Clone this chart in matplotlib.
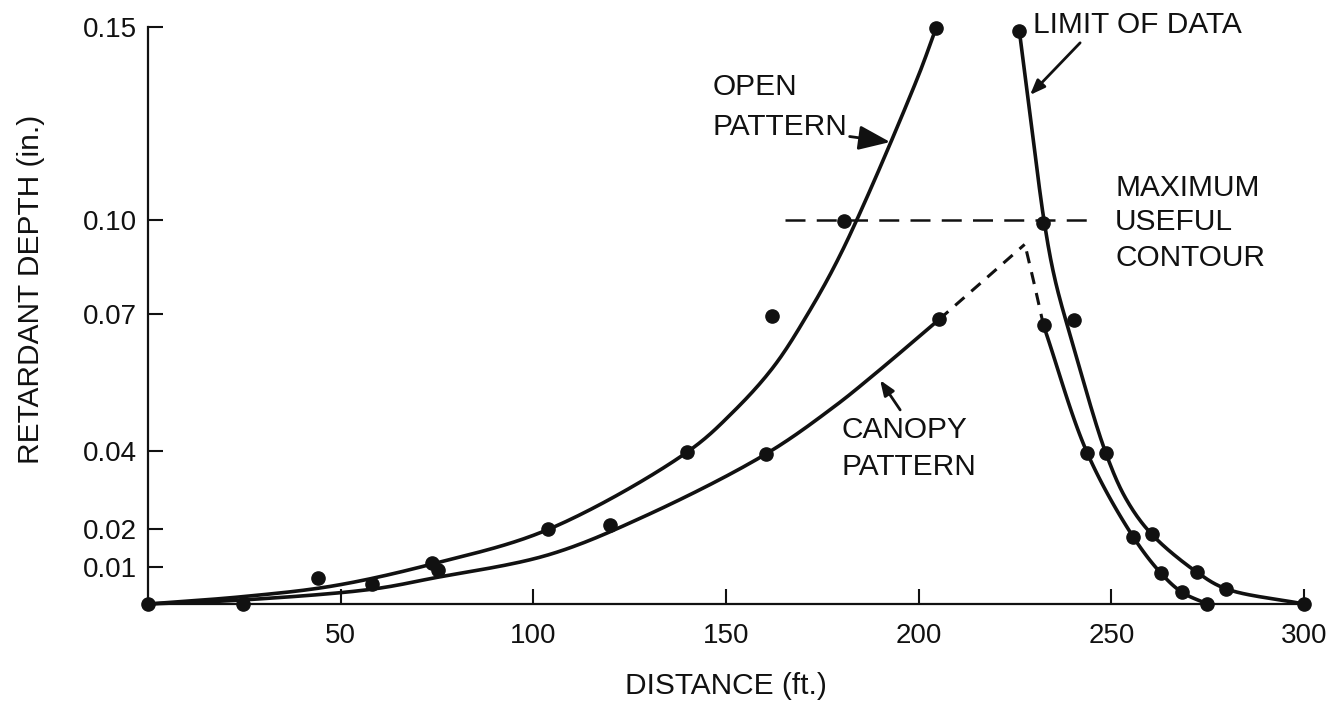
import numpy as np
import matplotlib
matplotlib.use("Agg")
import matplotlib.pyplot as plt
from matplotlib.scale import FuncScale

plt.rcParams['font.family'] = ['Liberation Sans', 'DejaVu Sans']

# Printed depth axis is not uniform: anchor depths and their heights along the axis
scale_depth = [-0.05, 0.0, 0.01, 0.02, 0.04, 0.07, 0.10, 0.15, 0.20]
scale_height = [-185, 0, 37, 75, 153, 290, 384, 577, 770]

x_ticks = [50, 100, 150, 200, 250, 300]
x_tick_labels = ["50", "100", "150", "200", "250", "300"]
y_ticks = [0.01, 0.02, 0.04, 0.07, 0.10, 0.15]
y_tick_labels = ["0.01", "0.02", "0.04", "0.07", "0.10", "0.15"]

# Fitted curves: distance (ft) and retardant depth (in.)
open_curve_dist = [0, 24.7, 48.1, 73.8, 103.9, 139.9, 151.9, 162.3, 171.0, 180.5,
                   199.5, 204.5]
open_curve_depth = [0, 0.002, 0.0049, 0.0108, 0.0199, 0.0397, 0.0486, 0.0584, 0.0697,
                    0.0910, 0.1363, 0.1497]

canopy_curve_dist = [0, 24.7, 58.1, 74.0, 103.9, 128.5, 160.3, 177.9, 189.1, 205.3]
canopy_curve_depth = [0, 0.0011, 0.004, 0.0070, 0.0132, 0.0231, 0.0392, 0.0496,
                      0.0572, 0.0688]

canopy_ext_dist = [205.3, 216.4, 227.5]
canopy_ext_depth = [0.0688, 0.0802, 0.0922]
canopy_drop_dist = [228.0, 230.1, 232.4]
canopy_drop_depth = [0.0900, 0.0790, 0.0675]

canopy_right_dist = [232.4, 243.8, 255.7, 262.9, 268.3, 274.9]
canopy_right_depth = [0.0675, 0.0394, 0.0179, 0.0083, 0.0032, 0.0]

open_right_dist = [226.1, 228.9, 232.6, 235.4, 240.2, 248.6, 254.0, 260.5, 272.2,
                   279.8, 300]
open_right_depth = [0.1492, 0.1275, 0.0993, 0.0809, 0.0628, 0.0394, 0.0274, 0.0186,
                    0.0086, 0.0041, 0.0]

# Observed points
open_pts_dist = [0, 44.2, 73.8, 103.9, 120.0, 139.9, 162.0, 180.7, 204.5]
open_pts_depth = [0, 0.0071, 0.011, 0.0199, 0.021, 0.0397, 0.0696, 0.0998, 0.1497]
canopy_pts_dist = [24.6, 58.1, 75.3, 160.3, 205.3]
canopy_pts_depth = [0, 0.0054, 0.0091, 0.0392, 0.0688]
canopy_right_pts_dist = [232.4, 240.3, 243.8, 255.7, 262.9, 268.3, 274.9]
canopy_right_pts_depth = [0.0675, 0.0686, 0.0394, 0.0179, 0.0083, 0.0032, 0.0]
open_right_pts_dist = [226.1, 232.2, 248.6, 260.5, 272.2, 279.8, 300]
open_right_pts_depth = [0.149, 0.0991, 0.0394, 0.0186, 0.0086, 0.0041, 0.0]

contour_depth = 0.10
contour_span = [165.3, 246.3]


def fwd(v):
    return np.interp(v, scale_depth, scale_height)


def inv(v):
    return np.interp(v, scale_height, scale_depth)


def smooth(xs, ys, n=24):
    """Centripetal Catmull-Rom through the points, computed in axis space."""
    P = np.column_stack([np.asarray(xs, float) * 3.853, fwd(np.asarray(ys, float))])
    P = np.vstack([2 * P[0] - P[1], P, 2 * P[-1] - P[-2]])
    out = []
    for i in range(1, len(P) - 2):
        p0, p1, p2, p3 = P[i - 1], P[i], P[i + 1], P[i + 2]
        t0 = 0.0
        t1 = t0 + max(np.linalg.norm(p1 - p0), 1e-6) ** 0.5
        t2 = t1 + max(np.linalg.norm(p2 - p1), 1e-6) ** 0.5
        t3 = t2 + max(np.linalg.norm(p3 - p2), 1e-6) ** 0.5
        t = np.linspace(t1, t2, n, endpoint=False)[:, None]
        A1 = (t1 - t) / (t1 - t0) * p0 + (t - t0) / (t1 - t0) * p1
        A2 = (t2 - t) / (t2 - t1) * p1 + (t - t1) / (t2 - t1) * p2
        A3 = (t3 - t) / (t3 - t2) * p2 + (t - t2) / (t3 - t2) * p3
        B1 = (t2 - t) / (t2 - t0) * A1 + (t - t0) / (t2 - t0) * A2
        B2 = (t3 - t) / (t3 - t1) * A2 + (t - t1) / (t3 - t1) * A3
        out.append((t2 - t) / (t2 - t1) * B1 + (t - t1) / (t2 - t1) * B2)
    out.append(P[-2][None])
    C = np.vstack(out)
    return C[:, 0] / 3.853, inv(C[:, 1])


fig = plt.figure(figsize=(13.44, 7.02), dpi=100)
ax = fig.add_axes([148 / 1344, 98 / 702, 1156 / 1344, 577 / 702])
ax.set_yscale(FuncScale(ax.yaxis, (fwd, inv)))
ax.set_xlim(0, 300)
ax.set_ylim(0, 0.15)

ink = "#111111"
lw = 2.6

for xs, ys in [(open_curve_dist, open_curve_depth),
               (canopy_curve_dist, canopy_curve_depth),
               (canopy_right_dist, canopy_right_depth),
               (open_right_dist, open_right_depth)]:
    sx, sy = smooth(xs, ys)
    ax.plot(sx, sy, color=ink, lw=lw, solid_capstyle="round", clip_on=False, zorder=3)

for xs, ys in [(canopy_ext_dist, canopy_ext_depth), (canopy_drop_dist, canopy_drop_depth)]:
    sx, sy = smooth(xs, ys)
    ax.plot(sx, sy, color=ink, lw=2.2, dashes=(4, 3), clip_on=False, zorder=3)

ax.plot(contour_span, [contour_depth, contour_depth], color=ink, lw=1.8,
        dashes=(8, 4.5), zorder=2)

for xs, ys in [(open_pts_dist, open_pts_depth), (canopy_pts_dist, canopy_pts_depth),
               (canopy_right_pts_dist, canopy_right_pts_depth),
               (open_right_pts_dist, open_right_pts_depth)]:
    ax.plot(xs, ys, "o", color=ink, ms=9.5, mec=ink, clip_on=False, zorder=4)

for side in ("top", "right"):
    ax.spines[side].set_visible(False)
for side in ("left", "bottom"):
    ax.spines[side].set_linewidth(1.6)
    ax.spines[side].set_color(ink)

ax.set_xticks(x_ticks)
ax.set_xticklabels(x_tick_labels)
ax.set_yticks(y_ticks)
ax.set_yticklabels(y_tick_labels)
ax.minorticks_off()
ax.tick_params(axis="both", direction="in", length=11, width=1.5, color=ink,
               labelsize=20, labelcolor=ink)
ax.tick_params(axis="x", pad=14)
ax.tick_params(axis="y", pad=8)

ax.set_xlabel("DISTANCE (ft.)", fontsize=21.5, color=ink)
ax.xaxis.set_label_coords(0.5, -0.118)
ax.set_ylabel("RETARDANT DEPTH (in.)", fontsize=21.5, color=ink)
ax.yaxis.set_label_coords(-0.089, 0.545)

tkw = dict(fontsize=21.5, color=ink, va="center", ha="left")
arrow = dict(arrowstyle="-|>,head_length=0.9,head_width=0.35", color=ink, lw=2.0,
             shrinkA=0, shrinkB=0)

ax.text(146.4, 0.1345, "OPEN", **tkw)
ax.annotate("PATTERN", xy=(192.6, 0.1202), xytext=(146.4, 0.1241),
            arrowprops=arrow, annotation_clip=False, **tkw)
ax.annotate("", xy=(228.9, 0.1324), xytext=(241.9, 0.1459),
            arrowprops=arrow, annotation_clip=False)
ax.text(229.7, 0.1505, "LIMIT OF DATA", clip_on=False, **tkw)
ax.text(251.0, 0.1083, "MAXIMUM", **tkw)
ax.text(251.0, 0.0994, "USEFUL", **tkw)
ax.text(251.0, 0.0879, "CONTOUR", **tkw)
ax.annotate("", xy=(190.0, 0.0555), xytext=(195.2, 0.049),
            arrowprops=arrow, annotation_clip=False)
ax.text(179.9, 0.0446, "CANOPY", **tkw)
ax.text(179.9, 0.0359, "PATTERN", **tkw)

fig.savefig("out.png", dpi=100, facecolor="white")
